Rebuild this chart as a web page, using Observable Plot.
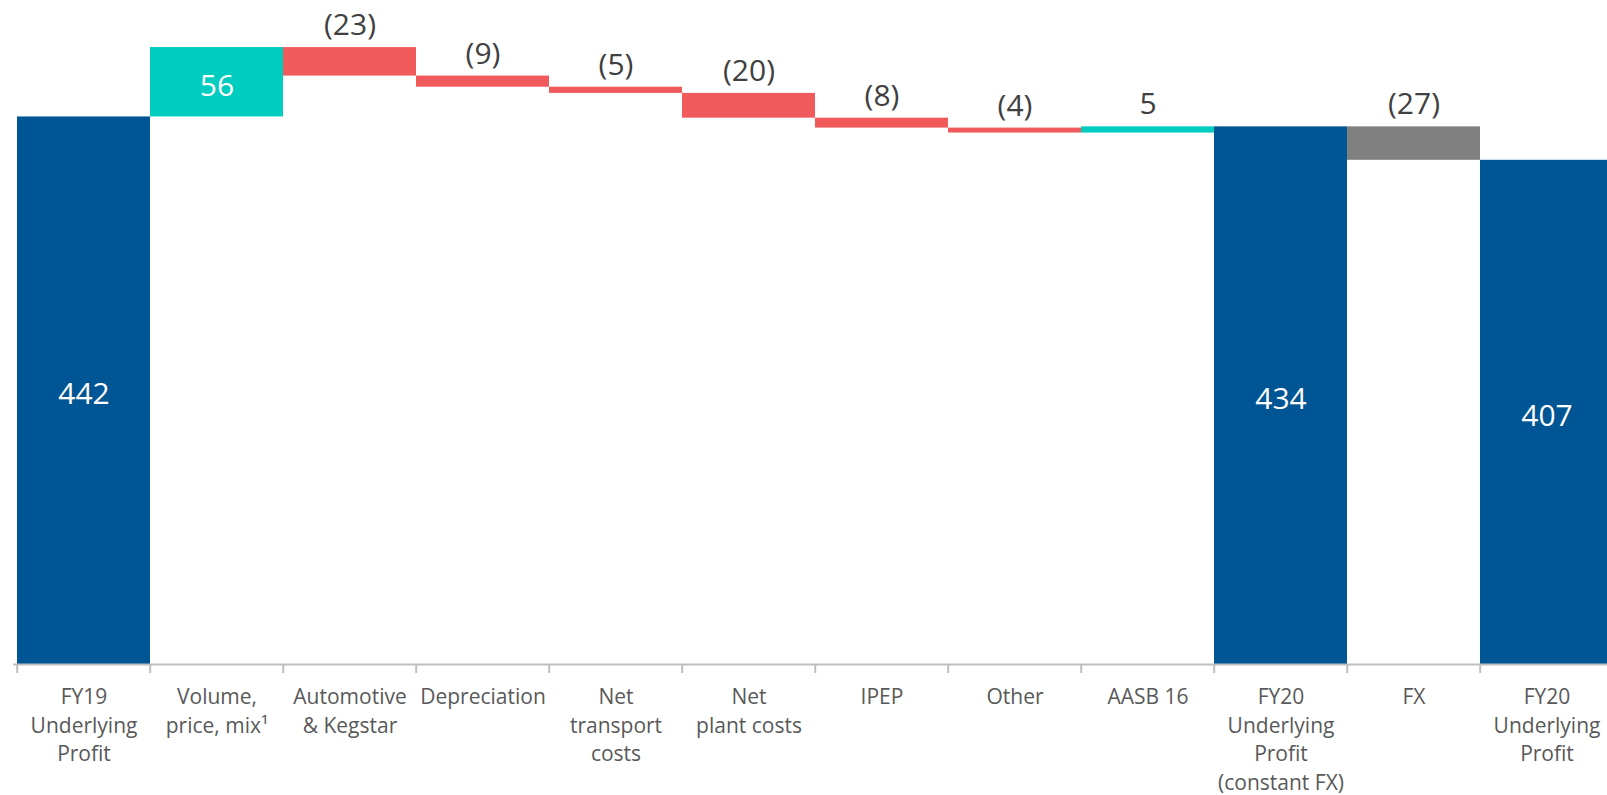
<!DOCTYPE html>
<html>
<head>
<meta charset="utf-8">
<script src="https://cdn.jsdelivr.net/npm/d3@7"></script>
<script src="https://cdn.jsdelivr.net/npm/@observablehq/plot@0.6"></script>
<style>
  html, body { margin: 0; padding: 0; background: #ffffff; overflow: hidden; }
  #chart svg { display: block; max-width: none; overflow: hidden; }
</style>
</head>
<body>
<div id="chart"></div>
<script>
// ---- data ----
const categories = [
  "FY19\nUnderlying\nProfit",
  "Volume,\nprice, mix\u00B9",
  "Automotive\n& Kegstar",
  "Depreciation",
  "Net\ntransport\ncosts",
  "Net\nplant costs",
  "IPEP",
  "Other",
  "AASB 16",
  "FY20\nUnderlying\nProfit\n(constant FX)",
  "FX",
  "FY20\nUnderlying\nProfit"
];
const values = [442, 56, -23, -9, -5, -20, -8, -4, 5, 434, -27, 407];
const kinds = ["total", "up", "down", "down", "down", "down", "down", "down", "up", "total", "fx", "total"];
const valueLabels = ["442", "56", "(23)", "(9)", "(5)", "(20)", "(8)", "(4)", "5", "434", "(27)", "407"];

// ---- build waterfall table ----
let running = 0;
const rows = categories.map((c, i) => {
  let y1, y2;
  if (kinds[i] === "total") { y1 = 0; y2 = values[i]; running = values[i]; }
  else { y1 = running; y2 = running + values[i]; running = y2; }
  return {cat: c, y1, y2, top: Math.max(y1, y2), mid: (y1 + y2) / 2,
          kind: kinds[i], label: valueLabels[i], inside: Math.abs(values[i]) > 40};
});

const W = 1607, H = 795;
const xRange = [13, 1616];
const bw = (xRange[1] - xRange[0]) / categories.length;

const colors = {total: "#005594", up: "#00CCC0", down: "#F05A5A", fx: "#808080"};

const chart = Plot.plot({
  width: W,
  height: H,
  marginTop: 0,
  marginLeft: 13,
  marginRight: 0,
  marginBottom: 131,
  x: {domain: categories, range: xRange, padding: 0, axis: null},
  y: {domain: [0, 536], axis: null},
  style: {fontFamily: "'Open Sans', 'Noto Sans', sans-serif", background: "#ffffff", overflow: "hidden", maxWidth: "none"},
  marks: [
    Plot.barY(rows, {x: "cat", y1: "y1", y2: "y2", fill: (d) => colors[d.kind]}),
    Plot.ruleY([0], {stroke: "#BFBFBF", strokeWidth: 2}),
    Plot.ruleX(categories, {x: (d) => d, y1: 0, y2: 0, insetBottom: -9, dx: -bw / 2, stroke: "#BFBFBF", strokeWidth: 2}),
    Plot.text(categories, {x: (d) => d, y: 0, text: (d) => d, dy: 19, lineAnchor: "top", lineHeight: 1.37,
      fontSize: 21, fill: "#595959"}),
    Plot.text(rows.filter((d) => d.inside), {x: "cat", y: "mid", text: "label", dy: 4, lineAnchor: "middle",
      fontSize: 30, fill: "#ffffff"}),
    Plot.text(rows.filter((d) => !d.inside), {x: "cat", y: "top", text: "label", dy: -22, lineAnchor: "middle",
      fontSize: 30, fill: "#404040"})
  ]
});
document.getElementById("chart").appendChild(chart);
</script>
</body>
</html>
